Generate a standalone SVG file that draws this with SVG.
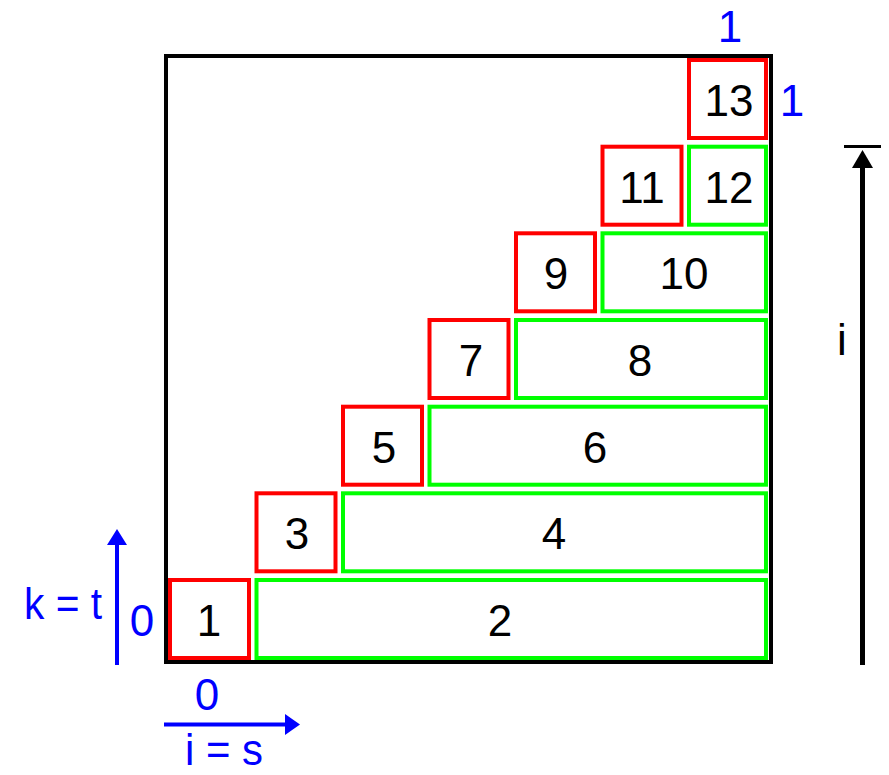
<svg xmlns="http://www.w3.org/2000/svg" width="889" height="775" viewBox="0 0 889 775">
<style>
.red{fill:none;stroke:#ff0000;stroke-width:4}
.grn{fill:none;stroke:#00ff00;stroke-width:4}
.num{font-family:"Liberation Sans",Arial,sans-serif;font-size:44px;fill:#000;text-anchor:middle}
.lbl{font-family:"Liberation Sans",Arial,sans-serif;font-size:44px;fill:#0000ff;text-anchor:middle}
</style>
<rect width="889" height="775" fill="#fff"/>
<rect id="frame" x="166" y="56" width="605" height="606" fill="none" stroke="#000" stroke-width="4"/>
<g id="n1"><rect class="red" x="170" y="580" width="79" height="78"/><text class="num" x="209" y="636">1</text></g>
<g id="n2"><rect class="grn" x="256.5" y="580" width="509.5" height="78"/><text class="num" x="500" y="636">2</text></g>
<g id="n3"><rect class="red" x="256.5" y="493.3" width="79" height="78"/><text class="num" x="297" y="549.3">3</text></g>
<g id="n4"><rect class="grn" x="343" y="493.3" width="423" height="78"/><text class="num" x="554" y="549.3">4</text></g>
<g id="n5"><rect class="red" x="343" y="406.7" width="79" height="78"/><text class="num" x="384" y="462.7">5</text></g>
<g id="n6"><rect class="grn" x="429.5" y="406.7" width="336.5" height="78"/><text class="num" x="595" y="462.7">6</text></g>
<g id="n7"><rect class="red" x="429.5" y="320" width="79" height="78"/><text class="num" x="471" y="376">7</text></g>
<g id="n8"><rect class="grn" x="516" y="320" width="250" height="78"/><text class="num" x="640" y="376">8</text></g>
<g id="n9"><rect class="red" x="516" y="233.3" width="79" height="78"/><text class="num" x="556" y="289.3">9</text></g>
<g id="n10"><rect class="grn" x="602.5" y="233.3" width="163.5" height="78"/><text class="num" x="684" y="289.3">10</text></g>
<g id="n11"><rect class="red" x="602.5" y="146.7" width="79" height="78"/><text class="num" x="642" y="202.7">11</text></g>
<g id="n12"><rect class="grn" x="689" y="146.7" width="77" height="78"/><text class="num" x="729" y="202.7">12</text></g>
<g id="n13"><rect class="red" x="689" y="60" width="77" height="78"/><text class="num" x="729" y="116">13</text></g>
<g id="labels">
<text class="lbl" x="730" y="42">1</text>
<text class="lbl" x="792" y="116">1</text>
<text class="lbl" x="142" y="636">0</text>
<text class="lbl" x="207" y="710">0</text>
<text class="lbl" x="63" y="619" textLength="78" lengthAdjust="spacingAndGlyphs">k = t</text>
<text class="lbl" x="224" y="765" textLength="78" lengthAdjust="spacingAndGlyphs">i = s</text>
<text class="num" x="842" y="355">i</text>
</g>
<g id="connectors">
<line x1="117" y1="541" x2="117" y2="665" stroke="#0000ff" stroke-width="4"/>
<polygon points="117,529 107,545 127,545" fill="#0000ff"/>
<line x1="164" y1="724.5" x2="288" y2="724.5" stroke="#0000ff" stroke-width="4"/>
<polygon points="300,724.5 285,714 285,735" fill="#0000ff"/>
<line x1="862.5" y1="165" x2="862.5" y2="665" stroke="#000" stroke-width="5"/>
<polygon points="862.5,150 852,168 873,168" fill="#000"/>
<line x1="844" y1="146.5" x2="881" y2="146.5" stroke="#000" stroke-width="3"/>
</g>
</svg>
